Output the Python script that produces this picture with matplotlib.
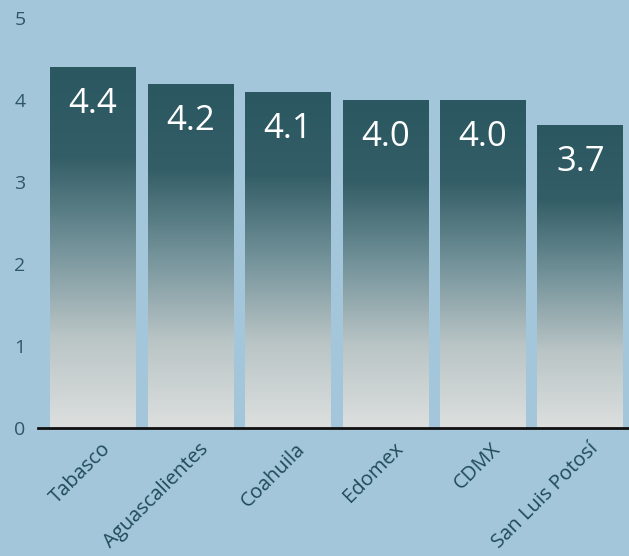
import matplotlib.pyplot as plt
import numpy as np
from matplotlib.colors import LinearSegmentedColormap
from matplotlib.patches import Rectangle

states = ['Tabasco', 'Aguascalientes', 'Coahuila', 'Edomex', 'CDMX', 'San Luis Potosí']
values = [4.4, 4.2, 4.1, 4.0, 4.0, 3.7]
value_labels = ['4.4', '4.2', '4.1', '4.0', '4.0', '3.7']
y_ticks = [0, 1, 2, 3, 4, 5]

BG = '#a3c6db'
TEXT = '#1f4b57'

# Bar fill fades from dark teal at the top to pale grey at the bottom
cmap = LinearSegmentedColormap.from_list(
    'fade', [(0.0, '#dcdfde'), (0.25, '#bac5c6'), (0.5, '#74939a'),
             (0.75, '#345e67'), (1.0, '#2a5760')])

fig = plt.figure(figsize=(6.29, 5.56), dpi=100)
fig.patch.set_facecolor(BG)
ax = fig.add_axes([38 / 629, 128 / 556, 591 / 629, 428 / 556])
ax.set_facecolor(BG)

x = np.arange(len(states))
width = 0.88
grad = np.linspace(0, 1, 256).reshape(-1, 1)
for xi, v, lab in zip(x, values, value_labels):
    rect = Rectangle((xi - width / 2, 0), width, v, facecolor='none',
                     edgecolor='none')
    ax.add_patch(rect)
    im = ax.imshow(grad, cmap=cmap, origin='lower', aspect='auto',
                   extent=(xi - width / 2, xi + width / 2, 0, v), zorder=2)
    im.set_clip_path(rect)
    ax.text(xi, v - 0.45, lab, ha='center', va='center', color='white',
            fontsize=25, family='Open Sans', zorder=3)

ax.set_xlim(-0.565, 5.5)
ax.set_ylim(0, 5.22)

ax.set_yticks(y_ticks)
ax.set_yticklabels([str(t) for t in y_ticks], fontsize=14, color='#2f5866',
                   family='Open Sans')
ax.tick_params(axis='y', length=0, pad=9)
ax.set_xticks([])

for side in ['top', 'right', 'left']:
    ax.spines[side].set_visible(False)
ax.spines['bottom'].set_color('#111111')
ax.spines['bottom'].set_linewidth(2)
ax.spines['bottom'].set_zorder(4)

# long names run off the bottom edge, as in the printed original
for xi, name in zip(x, states):
    ax.text(xi + 0.15, -0.22, name, rotation=45, ha='right', va='center',
            rotation_mode='anchor', fontsize=14.5, color=TEXT,
            family='Open Sans', clip_on=False)

fig.savefig('out.png', dpi=100, facecolor=BG)
